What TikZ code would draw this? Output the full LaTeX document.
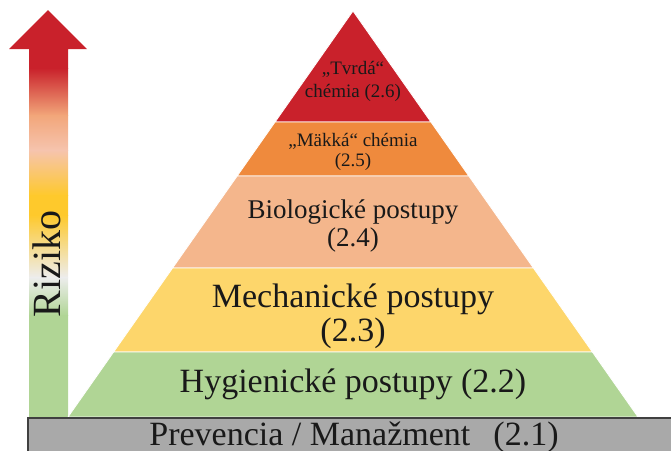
\documentclass[tikz,border=0pt]{standalone}
\usepackage{fontspec}
\setmainfont{Liberation Serif}
\definecolor{tvrda}{HTML}{C9212B}
\definecolor{makka}{HTML}{EF8A3D}
\definecolor{bio}{HTML}{F4B68C}
\definecolor{mech}{HTML}{FDD66B}
\definecolor{hyg}{HTML}{B0D595}
\definecolor{prev}{HTML}{A9A9A9}
\definecolor{riskB}{HTML}{F2A67A}
\definecolor{riskC}{HTML}{F6C4AE}
\definecolor{riskD}{HTML}{FEC92C}
\definecolor{riskE}{HTML}{EDEDED}
\begin{document}
\begin{tikzpicture}[x=1pt,y=-1pt,
  layer/.style={fill=#1,draw=white,line width=0.8pt},
  txt/.style n args={2}{font=\fontsize{#1}{#2}\selectfont,align=center,text=black!90,inner sep=0pt}]
\useasboundingbox (0,0) rectangle (671,450);
\begin{scope}
\clip (9,49) -- (48,10) -- (87,49) -- (68,49) -- (68,418) -- (29,418) -- (29,49) -- cycle;
\foreach \ya/\yb/\ca/\cb in %
{0/68/tvrda/tvrda,68/115/tvrda/riskB,115/150/riskB/riskC,150/195/riskC/riskD,
 195/215/riskD/riskD,215/277/riskD/riskE,277/315/riskE/hyg,315/420/hyg/hyg} {
   \shade[top color=\ca,bottom color=\cb] (0,\ya) rectangle (100,\yb+0.6);
}
\end{scope}
\foreach \ya/\yb/\col in %
{11/122/tvrda,122/176/makka,176/268/bio,268/352/mech,352/417/hyg} {
   \pgfmathsetmacro\wa{(\ya-11)/406*285}
   \pgfmathsetmacro\wb{(\yb-11)/406*285}
   \filldraw[layer=\col] (353-\wa,\ya) -- (353+\wa,\ya) -- (353+\wb,\yb) -- (353-\wb,\yb) -- cycle;
}
\draw[fill=prev,draw=black!75,line width=1.2pt] (28,418) rectangle (690,470);
\node[txt={19}{23}] (tvrdatxt) at (353,81) {„Tvrdá“\\chémia (2.6)};
\node[txt={19}{20}] (makkatxt) at (353,152) {„Mäkká“ chémia\\(2.5)};
\node[txt={27}{28}] (biotxt) at (353,226) {Biologické postupy\\(2.4)};
\node[txt={34}{34}] (mechtxt) at (353,316) {Mechanické postupy\\(2.3)};
\node[txt={34}{34}] (hygtxt) at (353,384) {Hygienické postupy (2.2)};
\node[txt={34}{34},anchor=base] (prevtxt) at (354,445) {Prevencia / Manažment\hspace{0.68em}(2.1)};
\node[txt={40}{40},rotate=90] (riziko) at (47,264) {Riziko};
\end{tikzpicture}
\end{document}
